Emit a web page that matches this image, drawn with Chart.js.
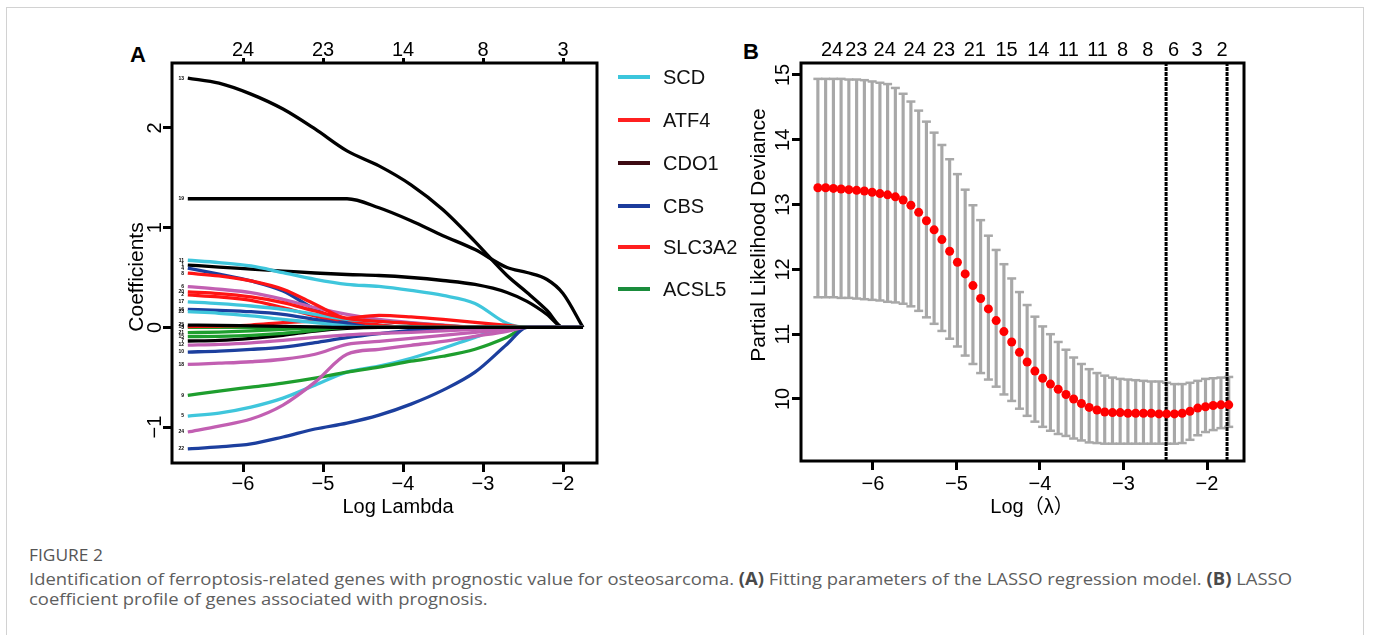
<!DOCTYPE html>
<html>
<head>
<meta charset="utf-8">
<script src="https://cdn.jsdelivr.net/npm/chart.js@4.4.1/dist/chart.umd.min.js"></script>
<style>
  html, body { margin: 0; padding: 0; background: #fff; }
  body { width: 1373px; height: 635px; position: relative; overflow: hidden; font-family: 'Liberation Sans', Arial, sans-serif; }
  .frame { position: absolute; left: 6px; top: 7px; width: 1356px; height: 700px; border: 1px solid #d2d2d2; }
  canvas { position: absolute; }
  #chartA { left: 100px; top: 20px; }
  #chartB { left: 730px; top: 20px; }
  .panel-tag { position: absolute; font-weight: bold; font-size: 22px; line-height: 22px; color: #000; }
  .legend-row { position: absolute; left: 618px; width: 120px; height: 20px; }
  .legend-row .swatch { position: absolute; left: 0; top: 8px; width: 32px; height: 3.5px; }
  .legend-row .name { position: absolute; left: 45px; top: 0; font-size: 20px; line-height: 20px; color: #111; white-space: nowrap; }
  .caption { position: absolute; left: 29px; font-family: 'Open Sans', sans-serif; color: #5e5e5e; white-space: nowrap; line-height: 1; transform-origin: 0 0; }
  .caption b { color: #4a4a4a; }
</style>
</head>
<body>
<div class="frame"></div>
<div class="panel-tag" style="left:130px; top:44px;">A</div>
<div class="panel-tag" style="left:743px; top:41px;">B</div>
<canvas id="chartA" width="510" height="515"></canvas>
<canvas id="chartB" width="530" height="515"></canvas>
<div id="legendA"></div>
<div class="caption" id="capTitle" style="top:547px; font-size:16px; color:#555;">FIGURE 2</div>
<div class="caption" id="capLine1" style="top:570px; font-size:17px;">Identification of ferroptosis-related genes with prognostic value for osteosarcoma. <b>(A)</b> Fitting parameters of the LASSO regression model. <b>(B)</b> LASSO</div>
<div class="caption" id="capLine2" style="top:590px; font-size:17px;">coefficient profile of genes associated with prognosis.</div>
<script>
// ---- panel A: LASSO coefficient paths ----
const logLambdaA = [-6.69, -6.3, -5.9, -5.5, -5.1, -4.7, -4.3, -3.9, -3.5, -3.1, -2.7, -2.45, -2.2, -2.0, -1.75];
const ticksBottomA = [-6, -5, -4, -3, -2];
const nonzeroTopA = ['24', '23', '14', '8', '3'];
const ticksLeftA = [-1, 0, 1, 2];

const coef1  = [0.625, 0.605, 0.585, 0.565, 0.545, 0.53, 0.52, 0.5, 0.47, 0.43, 0.35, 0.26, 0.13, 0, 0];
const coef2  = [0.325, 0.305, 0.271, 0.198, 0.114, 0.047, 0.02, 0, 0, 0, 0, 0, 0, 0, 0];
const coef3  = [0, 0, 0, 0, 0, 0, 0, 0, 0, 0, 0, 0, 0, 0, 0];
const coef4  = [0.593, 0.533, 0.466, 0.365, 0.18, 0.047, 0.02, 0, 0, 0, 0, 0, 0, 0, 0];
const coef5  = [-0.89, -0.86, -0.8, -0.71, -0.58, -0.45, -0.39, -0.31, -0.21, -0.1, 0, 0, 0, 0, 0];
const coef6  = [0.409, 0.382, 0.348, 0.281, 0.198, 0.131, 0.08, 0.047, 0.023, 0, 0, 0, 0, 0, 0];
const coef7  = [-0.137, -0.13, -0.11, -0.08, -0.037, -0.01, 0, 0, 0, 0, 0, 0, 0, 0, 0];
const coef8  = [0.543, 0.516, 0.466, 0.382, 0.231, 0.08, 0.023, 0, 0, 0, 0, 0, 0, 0, 0];
const coef9  = [-0.683, -0.64, -0.6, -0.56, -0.51, -0.45, -0.4, -0.34, -0.29, -0.22, -0.1, 0, 0, 0, 0];
const coef10 = [-0.248, -0.238, -0.221, -0.198, -0.154, -0.104, -0.064, -0.03, -0.01, 0, 0, 0, 0, 0, 0];
const coef11 = [0.673, 0.65, 0.616, 0.549, 0.482, 0.432, 0.41, 0.37, 0.32, 0.24, 0.04, 0, 0, 0, 0];
const coef12 = [-0.178, -0.17, -0.155, -0.13, -0.1, -0.075, -0.06, -0.05, -0.035, -0.02, -0.008, 0, 0, 0, 0];
const coef13 = [2.5, 2.45, 2.34, 2.19, 1.99, 1.77, 1.62, 1.43, 1.18, 0.86, 0.52, 0.35, 0.17, 0, 0];
const coef14 = [0.007, 0.013, 0.023, 0.047, 0.064, 0.09, 0.12, 0.105, 0.08, 0.05, 0.02, 0, 0, 0, 0];
const coef15 = [-0.094, -0.09, -0.08, -0.06, -0.03, 0, 0, 0, 0, 0, 0, 0, 0, 0, 0];
const coef16 = [0.181, 0.171, 0.157, 0.13, 0.08, 0.03, 0, 0, 0, 0, 0, 0, 0, 0, 0];
const coef17 = [0.255, 0.238, 0.214, 0.181, 0.131, 0.08, 0.06, 0.04, 0.02, 0, 0, 0, 0, 0, 0];
const coef18 = [-0.372, -0.36, -0.345, -0.32, -0.27, -0.17, -0.14, -0.11, -0.08, -0.05, -0.02, 0, 0, 0, 0];
const coef19 = [1.29, 1.29, 1.29, 1.29, 1.29, 1.29, 1.2, 1.07, 0.92, 0.78, 0.6, 0.55, 0.48, 0.34, 0];
const coef20 = [0.355, 0.338, 0.305, 0.248, 0.164, 0.09, 0.06, 0.04, 0.02, 0, 0, 0, 0, 0, 0];
const coef21 = [-0.054, -0.047, -0.035, -0.02, -0.005, 0, 0, 0, 0, 0, 0, 0, 0, 0, 0];
const coef22 = [-1.22, -1.2, -1.17, -1.1, -1.02, -0.96, -0.88, -0.77, -0.63, -0.45, -0.17, 0, 0, 0, 0];
const coef23 = [0.157, 0.141, 0.114, 0.08, 0.047, 0.013, 0, 0, 0, 0, 0, 0, 0, 0, 0];
const coef24 = [-1.05, -0.99, -0.92, -0.78, -0.55, -0.27, -0.22, -0.18, -0.14, -0.09, -0.04, 0, 0, 0, 0];
const coef25 = [0.023, 0.02, 0.015, 0.01, 0.005, 0, 0, 0, 0, 0, 0, 0, 0, 0, 0];
const coefPaths = [coef1, coef2, coef3, coef4, coef5, coef6, coef7, coef8, coef9, coef10, coef11, coef12, coef13,
    coef14, coef15, coef16, coef17, coef18, coef19, coef20, coef21, coef22, coef23, coef24, coef25];
const pathColors = ['#000000', '#ff1414', '#1e9e2e', '#1c3f9e', '#3fc6dc', '#c25fb2'];

const legendGenes = ['SCD', 'ATF4', 'CDO1', 'CBS', 'SLC3A2', 'ACSL5'];
const legendColors = ['#3cc6dc', '#ff2020', '#3d0a12', '#1c3c9c', '#ff2020', '#1a8c3c'];

// ---- panel B: cross-validation deviance ----
const logLambdaB = [-6.660, -6.567, -6.474, -6.382, -6.289, -6.196, -6.103, -6.010, -5.917, -5.825,
    -5.732, -5.639, -5.546, -5.453, -5.360, -5.268, -5.175, -5.082, -4.989, -4.896,
    -4.803, -4.711, -4.618, -4.525, -4.432, -4.339, -4.246, -4.154, -4.061, -3.968,
    -3.875, -3.782, -3.689, -3.597, -3.504, -3.411, -3.318, -3.225, -3.132, -3.040,
    -2.947, -2.854, -2.761, -2.668, -2.575, -2.483, -2.390, -2.297, -2.204, -2.111,
    -2.018, -1.926, -1.833, -1.740];
const devianceMean = [13.26, 13.26, 13.25, 13.24, 13.23, 13.22, 13.21, 13.19, 13.17, 13.15,
    13.12, 13.07, 12.99, 12.88, 12.75, 12.61, 12.46, 12.28, 12.11, 11.93,
    11.75, 11.55, 11.39, 11.21, 11.04, 10.88, 10.72, 10.57, 10.43, 10.32,
    10.23, 10.15, 10.07, 10.00, 9.93, 9.87, 9.83, 9.80, 9.79, 9.79,
    9.78, 9.78, 9.78, 9.78, 9.77, 9.77, 9.77, 9.78, 9.81, 9.86,
    9.88, 9.90, 9.91, 9.91];
const devianceUpper = [14.94, 14.94, 14.94, 14.94, 14.93, 14.93, 14.92, 14.90, 14.88, 14.86,
    14.80, 14.71, 14.59, 14.45, 14.28, 14.11, 13.92, 13.70, 13.47, 13.23,
    12.99, 12.76, 12.52, 12.30, 12.08, 11.86, 11.65, 11.45, 11.27, 11.12,
    11.00, 10.88, 10.76, 10.64, 10.54, 10.46, 10.40, 10.36, 10.33, 10.31,
    10.30, 10.29, 10.28, 10.27, 10.27, 10.25, 10.23, 10.23, 10.25, 10.28,
    10.31, 10.32, 10.33, 10.34];
const devianceLower = [11.57, 11.57, 11.57, 11.56, 11.56, 11.55, 11.54, 11.53, 11.52, 11.50,
    11.49, 11.47, 11.43, 11.36, 11.26, 11.16, 11.05, 10.93, 10.81, 10.67,
    10.54, 10.40, 10.30, 10.19, 10.07, 9.97, 9.85, 9.74, 9.65, 9.57,
    9.51, 9.46, 9.43, 9.39, 9.36, 9.33, 9.32, 9.31, 9.31, 9.31,
    9.31, 9.31, 9.31, 9.31, 9.31, 9.31, 9.31, 9.32, 9.37, 9.44,
    9.49, 9.52, 9.55, 9.57];
const cutoffLambdaB = [-2.49, -1.76];
const ticksBottomB = [-6, -5, -4, -3, -2];
const ticksLeftB = [10, 11, 12, 13, 14, 15];
const nonzeroAtB = [-6.49, -6.20, -5.86, -5.50, -5.15, -4.78, -4.40, -4.02, -3.66, -3.31, -3.01, -2.71, -2.40, -2.12, -1.82];
const nonzeroTopB = ['24', '23', '24', '24', '23', '21', '15', '14', '11', '11', '8', '8', '6', '3', '2'];

const FONT = "'Liberation Sans', Arial, sans-serif";
Chart.defaults.font.family = FONT;
Chart.defaults.color = '#000';
Chart.defaults.animation = false;

function signed(v) {
    return v < 0 ? '\u2212' + Math.abs(v) : String(v);
}

function tickGrid(len) {
    return { display: true, drawOnChartArea: false, drawTicks: true, tickLength: len, tickWidth: 3, tickColor: '#000', offset: false };
}

function fixedTicks(values) {
    return scale => { scale.ticks = values.map(v => ({ value: v })); };
}

// box, rotated y labels and axis titles, the way base R draws them
const axisDecor = {
    id: 'axisDecor',
    afterDatasetsDraw(chart, args, o) {
        const { ctx, chartArea: a } = chart;
        const ys = chart.scales.y;
        ctx.save();
        ctx.strokeStyle = '#000';
        ctx.lineWidth = 3;
        ctx.strokeRect(a.left, a.top, a.right - a.left, a.bottom - a.top);

        ctx.fillStyle = '#000';
        ctx.textAlign = 'center';
        ctx.textBaseline = 'middle';
        ctx.font = '20px ' + FONT;
        ys.ticks.forEach(t => {
            ctx.save();
            ctx.translate(a.left - o.yLabelGap, ys.getPixelForValue(t.value));
            ctx.rotate(-Math.PI / 2);
            ctx.fillText(signed(t.value), 0, 0);
            ctx.restore();
        });

        ctx.font = '21px ' + FONT;
        ctx.save();
        ctx.translate(a.left - o.yTitleGap, (a.top + a.bottom) / 2 + o.yTitleShift);
        ctx.rotate(-Math.PI / 2);
        ctx.fillText(o.yTitle, 0, 0);
        ctx.restore();

        ctx.textBaseline = 'alphabetic';
        ctx.font = '20px ' + FONT + ", 'Noto Sans CJK SC'";
        ctx.fillText(o.xTitle, (a.left + a.right) / 2 + o.xTitleShift, a.bottom + o.xTitleGap);
        ctx.restore();
    }
};

// small variable numbers at the left end of each path
const pathNumbers = {
    id: 'pathNumbers',
    afterDatasetsDraw(chart) {
        const { ctx, chartArea: a } = chart;
        ctx.save();
        ctx.fillStyle = '#000';
        ctx.font = 'bold 5px ' + FONT;
        ctx.textAlign = 'right';
        ctx.textBaseline = 'middle';
        chart.data.datasets.forEach(ds => {
            const y = chart.scales.y.getPixelForValue(ds.data[0].y);
            ctx.fillText(ds.label, a.left + 12, y);
        });
        ctx.restore();
    }
};

const minA = -6.8875, maxA = -1.575;

new Chart(document.getElementById('chartA'), {
    type: 'line',
    data: {
        datasets: coefPaths.map((path, i) => ({
            label: String(i + 1),
            data: logLambdaA.map((x, j) => ({ x, y: path[j] })),
            borderColor: pathColors[i % pathColors.length],
            borderWidth: 3.3,
            pointRadius: 0,
            fill: false,
            cubicInterpolationMode: 'monotone',
            order: coefPaths.length - 1 - i,
        })),
    },
    options: {
        responsive: false,
        events: [],
        layout: { padding: 0 },
        plugins: {
            legend: { display: false },
            tooltip: { enabled: false },
            axisDecor: {
                yLabelGap: 16.5, yTitleGap: 35, yTitleShift: 14, yTitle: 'Coefficients',
                xTitleShift: 13.5, xTitleGap: 50, xTitle: 'Log Lambda',
            },
        },
        scales: {
            x: {
                type: 'linear', position: 'bottom', min: minA, max: maxA, offset: false,
                afterBuildTicks: fixedTicks(ticksBottomA),
                ticks: { callback: v => signed(v), font: { size: 20 }, padding: 0.5, maxRotation: 0, autoSkip: false },
                grid: tickGrid(9),
                border: { display: false },
                afterFit: s => { s.height = 72; },
            },
            x2: {
                type: 'linear', position: 'top', display: true, min: minA, max: maxA, offset: false,
                afterBuildTicks: fixedTicks(ticksBottomA),
                ticks: { callback: (v, i) => nonzeroTopA[i], font: { size: 20 }, padding: -4, maxRotation: 0, autoSkip: false },
                grid: tickGrid(5),
                border: { display: false },
                afterFit: s => { s.height = 43; },
            },
            y: {
                type: 'linear', min: -1.361, max: 2.652,
                afterBuildTicks: fixedTicks(ticksLeftA),
                ticks: { display: false },
                grid: tickGrid(9),
                border: { display: false },
                afterFit: s => { s.width = 72; },
            },
            y2: {
                type: 'linear', position: 'right', display: true,
                ticks: { display: false },
                grid: { display: false },
                border: { display: false },
                afterFit: s => { s.width = 13; },
            },
        },
    },
    plugins: [axisDecor, pathNumbers],
});

const minB = -6.862, maxB = -1.557, yMinB = 9.043, yMaxB = 15.185;
const barGray = '#a8a8a8';

new Chart(document.getElementById('chartB'), {
    type: 'bar',
    data: {
        datasets: [
            {
                type: 'scatter',
                data: logLambdaB.map((x, i) => ({ x, y: devianceMean[i] })),
                backgroundColor: '#ff0000',
                pointRadius: 4.5,
                borderWidth: 0,
                order: 0,
            },
            ...cutoffLambdaB.map(x => ({
                type: 'line',
                data: [{ x, y: yMinB }, { x, y: yMaxB }],
                borderColor: '#000',
                borderWidth: 3,
                borderDash: [4, 1],
                pointRadius: 0,
                order: 1,
            })),
            {
                type: 'scatter',
                data: logLambdaB.map((x, i) => ({ x, y: devianceUpper[i] })),
                pointStyle: 'line',
                pointRadius: 4.5,
                borderColor: barGray,
                borderWidth: 2.5,
                order: 2,
            },
            {
                type: 'scatter',
                data: logLambdaB.map((x, i) => ({ x, y: devianceLower[i] })),
                pointStyle: 'line',
                pointRadius: 4.5,
                borderColor: barGray,
                borderWidth: 2.5,
                order: 2,
            },
            {
                type: 'bar',
                data: logLambdaB.map((x, i) => ({ x, y: [devianceLower[i], devianceUpper[i]] })),
                backgroundColor: barGray,
                barThickness: 2.5,
                order: 3,
            },
        ],
    },
    options: {
        responsive: false,
        events: [],
        layout: { padding: 0 },
        plugins: {
            legend: { display: false },
            tooltip: { enabled: false },
            axisDecor: {
                yLabelGap: 18, yTitleGap: 42, yTitleShift: -27, yTitle: 'Partial Likelihood Deviance',
                xTitleShift: 9.5, xTitleGap: 52, xTitle: 'Log\uFF08\u03BB\uFF09',
            },
        },
        scales: {
            x: {
                type: 'linear', position: 'bottom', min: minB, max: maxB, offset: false,
                afterBuildTicks: fixedTicks(ticksBottomB),
                ticks: { callback: v => signed(v), font: { size: 20 }, padding: 2.5, maxRotation: 0, autoSkip: false },
                grid: tickGrid(9),
                border: { display: false },
                afterFit: s => { s.height = 74; },
            },
            x2: {
                type: 'linear', position: 'top', display: true, min: minB, max: maxB, offset: false,
                afterBuildTicks: fixedTicks(nonzeroAtB),
                ticks: { callback: (v, i) => nonzeroTopB[i], font: { size: 20 }, padding: 1, maxRotation: 0, autoSkip: false },
                grid: { display: false, drawTicks: false, offset: false },
                border: { display: false },
                afterFit: s => { s.height = 43; },
            },
            y: {
                type: 'linear', min: yMinB, max: yMaxB, beginAtZero: false,
                afterBuildTicks: fixedTicks(ticksLeftB),
                ticks: { display: false },
                grid: tickGrid(9),
                border: { display: false },
                afterFit: s => { s.width = 71; },
            },
            y2: {
                type: 'linear', position: 'right', display: true,
                ticks: { display: false },
                grid: { display: false },
                border: { display: false },
                afterFit: s => { s.width = 16; },
            },
        },
    },
    plugins: [axisDecor],
});

// legend for panel A
const legendBox = document.getElementById('legendA');
const legendRows = [77, 120, 163, 206, 247, 289];
legendGenes.forEach((gene, i) => {
    const row = document.createElement('div');
    row.className = 'legend-row';
    row.style.top = (legendRows[i] - 10) + 'px';
    const sw = document.createElement('div');
    sw.className = 'swatch';
    sw.style.background = legendColors[i];
    const name = document.createElement('div');
    name.className = 'name';
    name.textContent = gene;
    row.appendChild(sw);
    row.appendChild(name);
    legendBox.appendChild(row);
});

// caption text is a little condensed in the source
const line1 = document.getElementById('capLine1');
const k = 1263 / line1.getBoundingClientRect().width;
document.querySelectorAll('.caption').forEach(el => { el.style.transform = 'scaleX(' + k + ')'; });
</script>
</body>
</html>
